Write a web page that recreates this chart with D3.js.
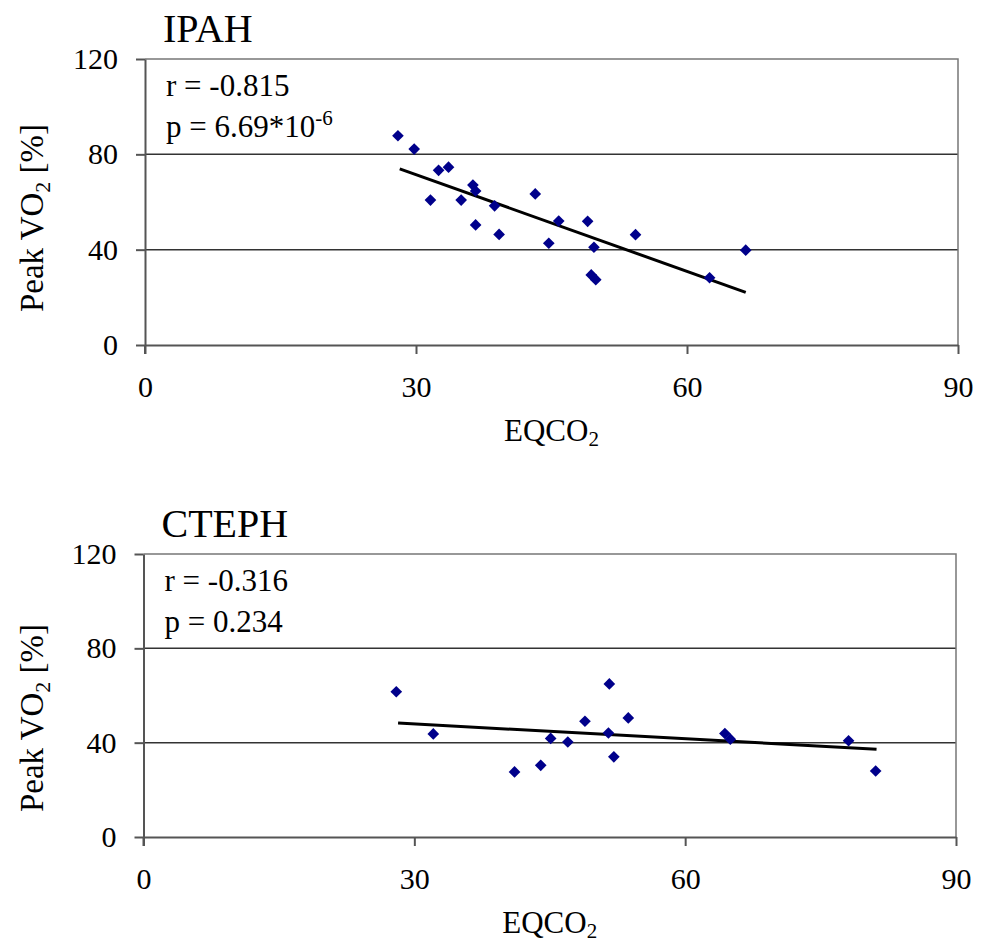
<!DOCTYPE html>
<meta charset="utf-8">
<style>
body { margin: 0; background: #fff; }
text { font-family: "Liberation Serif", "Times New Roman", serif; fill: #000; }
.tick text { font-size: 30px; }
.grid line { stroke: #333; stroke-width: 1.5; }
.frame { fill: none; stroke: #777; stroke-width: 1.5; }
.axis path, .axis line { stroke: #555; stroke-width: 2; }
.trend { stroke: #000; stroke-width: 3; }
.pt { fill: #00008b; }
</style>
<svg width="981" height="945"></svg>
<script src="https://cdn.jsdelivr.net/npm/d3@7"></script>
<script>

// values
var xTicks = [0, 30, 60, 90];
var yTicks = [0, 40, 80, 120];

var ipahX = [28.0, 29.8, 32.5, 33.6, 31.6, 36.3, 36.6, 35.0, 38.7, 36.6, 39.2,
             43.2, 45.8, 44.7, 49.0, 49.7, 49.4, 49.9, 54.3, 62.5, 66.5];
var ipahY = [87.8, 82.2, 73.3, 74.6, 60.8, 67.1, 64.6, 60.8, 58.4, 50.4, 46.4,
             63.4, 52.0, 42.7, 51.9, 41.0, 29.4, 27.4, 46.3, 28.2, 39.8];
var ipahTrend = [[28.2, 73.9], [66.5, 22.1]];

var ctephX = [28.0, 32.1, 41.1, 44.0, 45.1, 47.0, 48.9, 51.6, 51.5, 52.1, 53.7,
              64.4, 65.0, 78.1, 81.1];
var ctephY = [61.6, 43.7, 27.6, 30.4, 41.8, 40.3, 49.1, 64.9, 44.1, 34.0, 50.5,
              43.9, 41.5, 40.8, 28.0];
var ctephTrend = [[28.2, 48.3], [81.2, 37.2]];

var svg = d3.select("svg");

function panel(o) {
  var x = d3.scaleLinear().domain([0, 90]).range([o.left, o.right]);
  var y = d3.scaleLinear().domain([0, 120]).range([o.bottom, o.top]);

  // gridlines
  svg.append("g").attr("class", "grid")
    .selectAll("line")
    .data(yTicks.filter(function(d) { return d > 0 && d < 120; }))
    .enter().append("line")
      .attr("x1", o.left).attr("x2", o.right)
      .attr("y1", function(d) { return y(d); })
      .attr("y2", function(d) { return y(d); });

  // box
  svg.append("path").attr("class", "frame")
    .attr("d", "M" + o.left + "," + o.top + "H" + o.right + "V" + o.bottom);

  // axes
  svg.append("g").attr("class", "axis")
    .attr("transform", "translate(0," + o.bottom + ")")
    .call(d3.axisBottom(x).tickValues(xTicks).tickSize(9).tickPadding(22).tickSizeOuter(0));
  svg.append("g").attr("class", "axis")
    .attr("transform", "translate(" + o.left + ",0)")
    .call(d3.axisLeft(y).tickValues(yTicks).tickSize(9).tickPadding(18).tickSizeOuter(0));
  svg.append("line").attr("class", "axis")
    .attr("x1", o.left).attr("x2", o.left)
    .attr("y1", o.bottom).attr("y2", o.bottom + 9)
    .attr("stroke", "#555").attr("stroke-width", 2);

  // trend line
  svg.append("line").attr("class", "trend")
    .attr("x1", x(o.trend[0][0])).attr("y1", y(o.trend[0][1]))
    .attr("x2", x(o.trend[1][0])).attr("y2", y(o.trend[1][1]));

  // points
  var sq = d3.symbol().type(d3.symbolSquare).size(68);
  svg.append("g").selectAll("path")
    .data(o.xs.map(function(d, i) { return [d, o.ys[i]]; }))
    .enter().append("path")
      .attr("class", "pt")
      .attr("d", sq)
      .attr("transform", function(d) {
        return "translate(" + x(d[0]) + "," + y(d[1]) + ") rotate(45)";
      });

  // title
  svg.append("text").attr("x", o.left + 18).attr("y", o.top - 17)
    .style("font-size", "40px").text(o.title);

  // stats
  svg.append("text").attr("x", o.left + 21).attr("y", o.top + 37)
    .style("font-size", "31px").text(o.r);
  var p = svg.append("text").attr("x", o.left + 21).attr("y", o.top + 78)
    .style("font-size", "31px").text(o.p);
  if (o.pExp) {
    p.append("tspan").attr("dy", -12).style("font-size", "21px").text(o.pExp);
  }

  // x label
  var xl = svg.append("text").attr("x", (o.left + o.right) / 2).attr("y", o.bottom + 96)
    .attr("text-anchor", "middle").style("font-size", "31px");
  xl.append("tspan").text("EQCO");
  xl.append("tspan").attr("dy", 5).style("font-size", "21px").text("2");

  // y label
  var yl = svg.append("text")
    .attr("transform", "translate(" + 43 + "," + o.ylabelY + ") rotate(-90)")
    .attr("text-anchor", "middle").style("font-size", "33px");
  yl.append("tspan").text("Peak VO");
  yl.append("tspan").attr("dy", 7).style("font-size", "22px").text("2");
  yl.append("tspan").attr("dy", -7).text(" [%]");
}

panel({
  left: 145, right: 958, top: 59, bottom: 345,
  xs: ipahX, ys: ipahY, trend: ipahTrend,
  title: "IPAH", r: "r = -0.815", p: "p = 6.69*10", pExp: "-6",
  ylabelY: 218
});

panel({
  left: 143.5, right: 956, top: 554, bottom: 837,
  xs: ctephX, ys: ctephY, trend: ctephTrend,
  title: "CTEPH", r: "r = -0.316", p: "p = 0.234",
  ylabelY: 718
});

</script>
